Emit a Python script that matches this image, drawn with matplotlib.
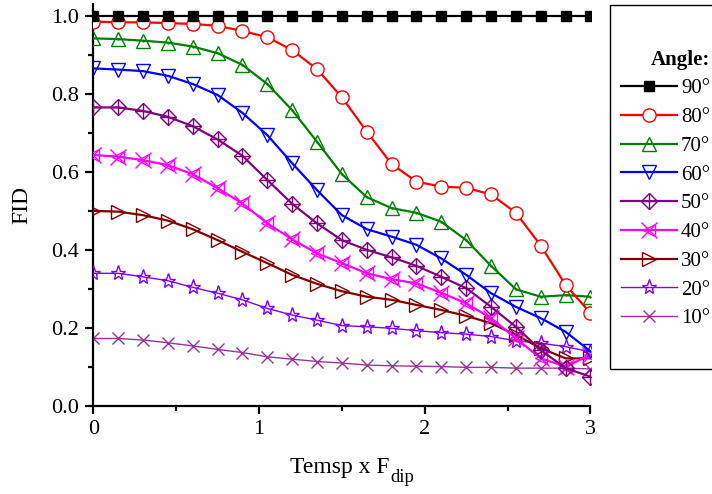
import numpy as np
import matplotlib
matplotlib.use("Agg")
import matplotlib.pyplot as plt
from matplotlib.patches import Rectangle
from matplotlib.ticker import MultipleLocator, FormatStrFormatter

plt.rcParams['font.family'] = ['Liberation Serif', 'DejaVu Serif']
plt.rcParams['mathtext.fontset'] = 'custom'
plt.rcParams['mathtext.rm'] = 'Liberation Serif'
plt.rcParams['mathtext.it'] = 'Liberation Serif:italic'

x = np.round(np.arange(21) * 0.15, 2)

fid_90 = [1.0] * 21
fid_80 = [0.985, 0.983, 0.983, 0.981, 0.979, 0.974, 0.961, 0.945, 0.912, 0.863, 0.791,
          0.703, 0.620, 0.575, 0.562, 0.559, 0.542, 0.495, 0.411, 0.310, 0.238]
fid_70 = [0.942, 0.940, 0.936, 0.931, 0.921, 0.904, 0.874, 0.825, 0.758, 0.677, 0.594,
          0.535, 0.507, 0.495, 0.472, 0.425, 0.359, 0.299, 0.280, 0.284, 0.280]
fid_60 = [0.865, 0.862, 0.858, 0.846, 0.825, 0.797, 0.751, 0.694, 0.622, 0.553, 0.489,
          0.453, 0.434, 0.413, 0.378, 0.336, 0.289, 0.254, 0.225, 0.190, 0.140]
fid_50 = [0.765, 0.765, 0.756, 0.741, 0.717, 0.683, 0.641, 0.579, 0.518, 0.468, 0.425,
          0.400, 0.381, 0.359, 0.331, 0.302, 0.254, 0.203, 0.143, 0.097, 0.075]
fid_40 = [0.643, 0.639, 0.630, 0.617, 0.594, 0.558, 0.519, 0.468, 0.427, 0.391, 0.366,
          0.340, 0.325, 0.314, 0.290, 0.263, 0.225, 0.173, 0.122, 0.101, 0.131]
fid_30 = [0.500, 0.498, 0.489, 0.475, 0.453, 0.425, 0.395, 0.366, 0.336, 0.313, 0.294,
          0.280, 0.272, 0.259, 0.246, 0.231, 0.212, 0.182, 0.148, 0.122, 0.122]
fid_20 = [0.340, 0.340, 0.331, 0.321, 0.304, 0.289, 0.272, 0.250, 0.233, 0.220, 0.206,
          0.203, 0.199, 0.193, 0.188, 0.184, 0.178, 0.167, 0.161, 0.152, 0.139]
fid_10 = [0.173, 0.173, 0.169, 0.162, 0.154, 0.145, 0.137, 0.126, 0.120, 0.114, 0.110,
          0.105, 0.103, 0.102, 0.101, 0.099, 0.099, 0.097, 0.097, 0.097, 0.095]

labels = ['90°', '80°', '70°', '60°', '50°', '40°', '30°', '20°', '10°']

W, H = 712, 494
fig = plt.figure(figsize=(W / 100, H / 100), dpi=100)
ax = fig.add_axes([93.3 / W, 88 / H, (590.5 - 93.3) / W, 402 / H])

handles = []
thick = 1.6
thin = 1.0

h = ax.plot(x, fid_90, color='black', lw=thick, marker='s', ms=7.5, mfc='black', mec='black', zorder=10)[0]
handles.append(h)
h = ax.plot(x, fid_80, color='red', lw=thick, marker='o', ms=9.5, mfc='white', mec='red', mew=1.0, zorder=9)[0]
handles.append(h)
h = ax.plot(x, fid_70, color='green', lw=thick, marker='^', ms=10, mfc='none', mec='green', mew=1.0, zorder=8)[0]
ax.plot(x, fid_70, ls='none', marker='.', ms=1.5, color='green', zorder=8)
handles.append(h)
h = ax.plot(x, fid_60, color='blue', lw=thick, marker='v', ms=10, mfc='none', mec='blue', mew=1.0, zorder=7)[0]
handles.append(h)
h1 = ax.plot(x, fid_50, color='purple', lw=thick, marker='D', ms=8.5, mfc='none', mec='purple', mew=1.0, zorder=6)[0]
h2 = ax.plot(x, fid_50, ls='none', marker='+', ms=11, mec='purple', mew=1.0, zorder=6)[0]
handles.append((h1, h2))
h1 = ax.plot(x, fid_40, color='magenta', lw=thick, marker='x', ms=11, mec='magenta', mew=1.0, zorder=5)[0]
h2 = ax.plot(x, fid_40, ls='none', marker='<', ms=9, mfc='none', mec='magenta', mew=1.0, zorder=5)[0]
handles.append((h1, h2))
h = ax.plot(x, fid_30, color='#800000', lw=thick, marker='>', ms=10, mfc='none', mec='#800000', mew=1.0, zorder=4)[0]
handles.append(h)
h = ax.plot(x, fid_20, color='#8000ff', lw=thin, marker='*', ms=11, mfc='none', mec='#8000ff', mew=1.0, zorder=3)[0]
handles.append(h)
h = ax.plot(x, fid_10, color='#993399', lw=thin, marker='x', ms=9, mec='#993399', mew=1.0, zorder=2)[0]
handles.append(h)

ax.set_xlim(0, 3)
ax.set_ylim(0, 1.03)
ax.spines['top'].set_visible(False)
ax.spines['right'].set_visible(False)
ax.spines['left'].set_linewidth(1.6)
ax.spines['bottom'].set_linewidth(1.6)
ax.xaxis.set_major_locator(MultipleLocator(1))
ax.xaxis.set_minor_locator(MultipleLocator(0.5))
ax.yaxis.set_major_locator(MultipleLocator(0.2))
ax.yaxis.set_minor_locator(MultipleLocator(0.1))
ax.yaxis.set_major_formatter(FormatStrFormatter('%.1f'))
ax.tick_params(which='major', direction='out', length=6, width=1.6, labelsize=16, pad=4)
ax.tick_params(which='minor', direction='out', length=3.5, width=1.6)
ax.set_ylabel('FID', fontsize=17, labelpad=14)

# x label built from main text and a larger-than-default subscript
t_main = fig.text(290 / W, (H - 473) / H, 'Temsp x F', fontsize=17, ha='left', va='baseline')
fig.canvas.draw()
bb = t_main.get_window_extent(renderer=fig.canvas.get_renderer())
fig.text((bb.x1 + 1) / W, (H - 482) / H, 'dip', fontsize=13.5, ha='left', va='baseline')

# legend frame (extends beyond right figure edge as in the reference)
fig.patches.append(Rectangle((610 / W, (H - 369) / H), 0.3, (369 - 5) / H,
                             transform=fig.transFigure, fill=False, lw=1.0, ec='black',
                             clip_on=False))
leg = fig.legend(handles, labels, loc='upper left',
                 bbox_to_anchor=(606 / W, (H - 35) / H),
                 frameon=False, fontsize=15, title='Angle:',
                 title_fontproperties={'weight': 'bold', 'size': 15},
                 handlelength=2.7, handletextpad=0.2, labelspacing=0.44,
                 borderpad=0.2)
leg._legend_box.align = 'right'

fig.savefig('out.png', dpi=100)
